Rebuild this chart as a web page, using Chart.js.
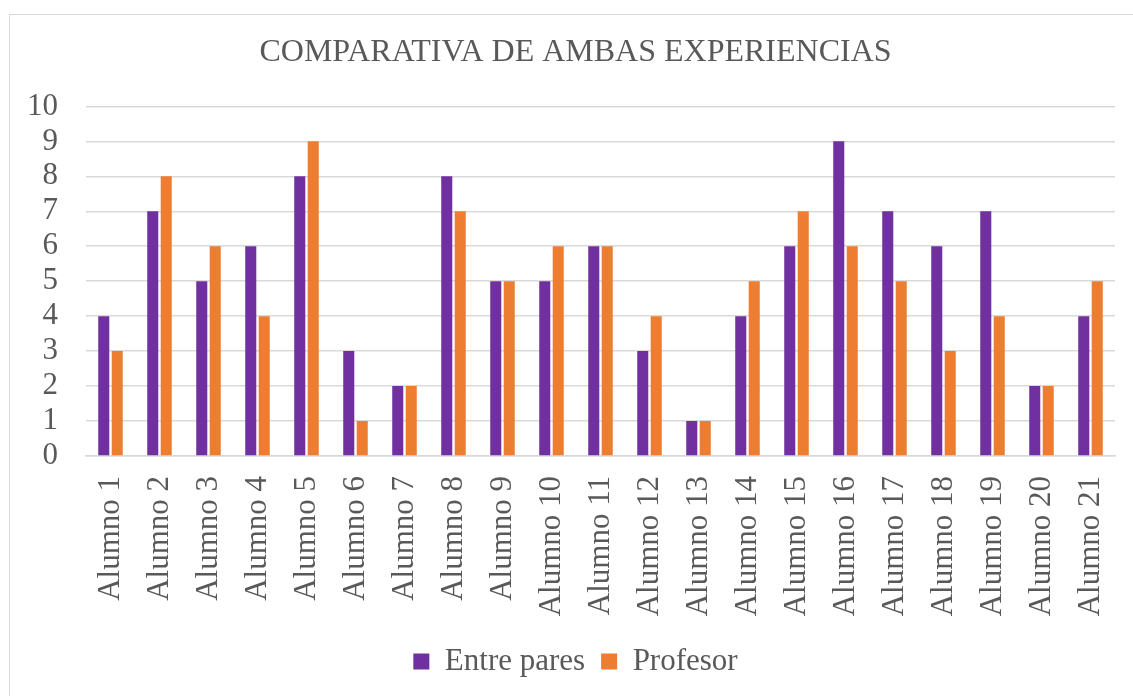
<!DOCTYPE html>
<html>
<head>
<meta charset="utf-8">
<script src="https://cdn.jsdelivr.net/npm/chart.js@4/dist/chart.umd.min.js"></script>
<style>
  html, body { margin: 0; padding: 0; background: #fff; }
  #wrap { position: relative; width: 1133px; height: 696px; overflow: hidden; }
  #frame { position: absolute; left: 9px; top: 14px; width: 1200px; height: 800px; border: 1.5px solid #d9d9d9; }
  #chart { position: absolute; left: 0; top: 0; }
</style>
</head>
<body>
<div id="wrap">
  <div id="frame"></div>
  <canvas id="chart" width="1133" height="696"></canvas>
</div>
<script>
    'use strict';

    var alumnos = ['Alumno 1', 'Alumno 2', 'Alumno 3', 'Alumno 4', 'Alumno 5', 'Alumno 6', 'Alumno 7',
        'Alumno 8', 'Alumno 9', 'Alumno 10', 'Alumno 11', 'Alumno 12', 'Alumno 13', 'Alumno 14',
        'Alumno 15', 'Alumno 16', 'Alumno 17', 'Alumno 18', 'Alumno 19', 'Alumno 20', 'Alumno 21'];
    var entre_pares = [4, 7, 5, 6, 8, 3, 2, 8, 5, 5, 6, 3, 1, 4, 6, 9, 7, 6, 7, 2, 4];
    var profesor = [3, 8, 6, 4, 9, 1, 2, 7, 5, 6, 6, 4, 1, 5, 7, 6, 5, 3, 4, 2, 5];
    var y_ticks = [0, 1, 2, 3, 4, 5, 6, 7, 8, 9, 10];

    var colors = {
        purple: '#7030a0',
        orange: '#ed7d31',
        text:   '#595959',
        grid:   '#d9d9d9',
    };
    var serif = '"Liberation Serif", "Times New Roman", serif';

    Chart.defaults.font.family = serif;
    Chart.defaults.color = colors.text;

    new Chart(document.getElementById('chart'), {
        type: 'bar',
        data: {
            labels: alumnos,
            datasets: [{
                label: 'Entre pares',
                data: entre_pares,
                backgroundColor: colors.purple,
            }, {
                label: 'Profesor',
                data: profesor,
                backgroundColor: colors.orange,
            }],
        },
        options: {
            responsive: false,
            animation: false,
            datasets: {
                bar: { categoryPercentage: 0.55, barPercentage: 0.82 },
            },
            // title and legend are centred on the outer frame, not the plot
            layout: { padding: { left: 18, right: 0, top: 0, bottom: 9 } },
            plugins: {
                title: {
                    display: true,
                    text: 'COMPARATIVA DE AMBAS EXPERIENCIAS',
                    color: colors.text,
                    font: { size: 32, weight: 'normal', family: serif },
                    padding: { top: 33, bottom: 35 },
                },
                legend: {
                    position: 'bottom',
                    labels: {
                        boxWidth: 16,
                        boxHeight: 16,
                        padding: 16,
                        color: colors.text,
                        font: { size: 31, family: serif },
                    },
                },
                tooltip: { enabled: false },
            },
            scales: {
                x: {
                    grid: { display: false },
                    border: { color: colors.grid, width: 1.5 },
                    ticks: {
                        minRotation: 90,
                        maxRotation: 90,
                        padding: 12,
                        color: colors.text,
                        font: { size: 31, family: serif },
                    },
                    afterFit: function (scale) {
                        scale.height = 174;
                        scale.paddingLeft = 0;
                        scale.paddingRight = 0;
                    },
                },
                y: {
                    min: 0,
                    max: 10,
                    afterBuildTicks: function (scale) {
                        scale.ticks = y_ticks.map(function (v) { return { value: v }; });
                    },
                    grid: { color: colors.grid, lineWidth: 1.5, drawTicks: false },
                    border: { display: false },
                    ticks: {
                        autoSkip: false,
                        padding: 28,
                        color: colors.text,
                        font: { size: 31, family: serif },
                    },
                    afterFit: function (scale) { scale.width = 68; },
                },
                // empty right gutter so the plot ends where the reference does
                y2: {
                    position: 'right',
                    display: true,
                    grid: { display: false },
                    border: { display: false },
                    ticks: { display: false },
                    afterFit: function (scale) { scale.width = 18; },
                },
            },
        },
    });
</script>
</body>
</html>
